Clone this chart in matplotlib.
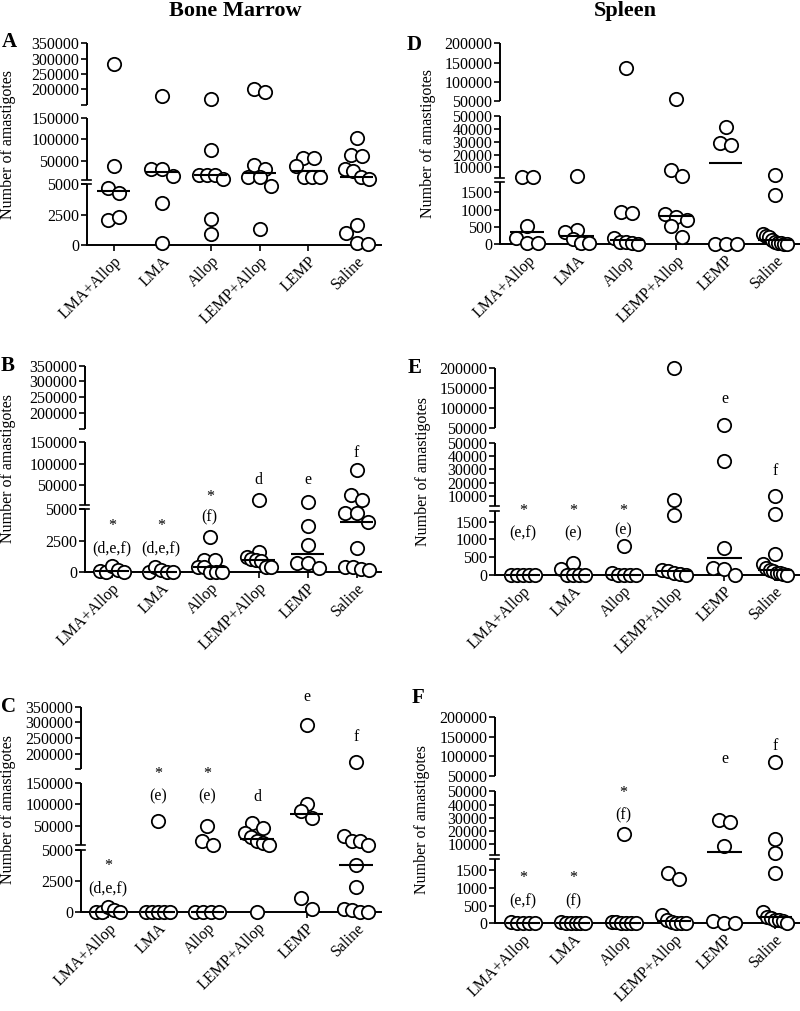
import numpy as np
import matplotlib
matplotlib.use('Agg')
import matplotlib.pyplot as plt
import matplotlib.transforms as mtransforms

plt.rcParams['font.family'] = ['Liberation Serif', 'DejaVu Serif']

# ---- data (number of amastigotes) ----
groups = ['LMA+Allop', 'LMA', 'Allop', 'LEMP+Allop', 'LEMP', 'Saline']

bm_a = [
    [282000, 36000, 4700, 4240, 2090, 2310],
    [178000, 30800, 30800, 13800, 3450, 190],
    [168000, 74600, 15400, 15400, 15400, 5500, 2170, 920],
    [200000, 192000, 40000, 31000, 11500, 11500, 4860, 1280],
    [57000, 55000, 38000, 11500, 11500, 11500],
    [104000, 63000, 61500, 30800, 24600, 11500, 5500, 1630, 1000, 130, 100],
]
bm_b = [
    [50, 0, 450, 100, 0],
    [0, 350, 100, 0, 0],
    [2780, 950, 950, 400, 400, 0, 0, 0],
    [16000, 1600, 1220, 1000, 950, 900, 360, 360],
    [11500, 3670, 2150, 680, 680, 300],
    [85000, 29000, 17000, 4730, 4700, 3960, 1880, 400, 360, 220, 100],
]
bm_c = [
    [0, 0, 400, 100, 0],
    [62000, 0, 0, 0, 0, 0],
    [50000, 13800, 6200, 0, 0, 0, 0],
    [57600, 44700, 33000, 25300, 13800, 10000, 6200, 0],
    [293000, 101000, 85000, 67800, 1130, 190],
    [174000, 27000, 16000, 13800, 6200, 3780, 1990, 240, 140, 0, 0],
]
sp_d = [
    [2800, 2400, 518, 176, 47, 47],
    [3000, 400, 341, 147, 47, 47],
    [136000, 930, 890, 176, 76, 76, 29, 20],
    [55000, 8000, 3600, 862, 794, 694, 538, 224],
    [41500, 28700, 27500, 0, 0, 0],
    [4300, 1420, 300, 240, 200, 130, 76, 50, 29, 10, 0],
]
sp_e = [
    [0, 0, 0, 0, 0],
    [350, 160, 0, 0, 0, 0],
    [806, 50, 0, 0, 0, 0],
    [200000, 7000, 1690, 130, 100, 60, 30, 0],
    [57600, 36500, 760, 194, 165, 0],
    [10000, 1700, 600, 320, 200, 140, 100, 70, 50, 20, 0],
]
sp_f = [
    [40, 20, 0, 0, 0],
    [40, 10, 10, 0, 0, 0],
    [18000, 50, 30, 20, 0, 0, 0],
    [1405, 1234, 237, 100, 40, 0, 0, 0],
    [28000, 26700, 8700, 66, 0, 0],
    [84700, 14300, 3300, 1425, 330, 190, 150, 95, 95, 60, 20],
]

# significance letters: (group index, text, height as axes fraction)
notes_b = [(0, '*', 0.22), (0, '(d,e,f)', 0.115), (1, '*', 0.22), (1, '(d,e,f)', 0.115),
           (2, '*', 0.365), (2, '(f)', 0.262), (3, 'd', 0.445), (4, 'e', 0.445), (5, 'f', 0.578)]
notes_c = [(0, '*', 0.223), (0, '(d,e,f)', 0.114), (1, '*', 0.672), (1, '(e)', 0.561),
           (2, '*', 0.672), (2, '(e)', 0.561), (3, 'd', 0.561), (4, 'e', 1.049), (5, 'f', 0.854)]
notes_e = [(0, '*', 0.31), (0, '(e,f)', 0.2), (1, '*', 0.31), (1, '(e)', 0.2),
           (2, '*', 0.31), (2, '(e)', 0.215), (4, 'e', 0.85), (5, 'f', 0.505)]
notes_f = [(0, '*', 0.218), (0, '(e,f)', 0.105), (1, '*', 0.218), (1, '(f)', 0.105),
           (2, '*', 0.632), (2, '(f)', 0.524), (4, 'e', 0.794), (5, 'f', 0.858)]

# ---- broken y axis settings ----
BM = dict(segs=[(0, 5000), (5000, 150000), (150000, 350000)],
          fr=[0.302, 0.022, 0.305, 0.066, 0.305],
          ticks=[0, 2500, 5000, 50000, 100000, 150000, 150000.01, 200000, 250000, 300000, 350000],
          labels=['0', '2500', '5000', '50000', '100000', '150000', '', '200000', '250000', '300000', '350000'])
SP = dict(segs=[(0, 1800), (2000, 50000), (50000, 200000)],
          fr=[0.31, 0.022, 0.306, 0.074, 0.288],
          ticks=[0, 500, 1000, 1500, 10000, 20000, 30000, 40000, 50000, 50000.01, 100000, 150000, 200000],
          labels=['0', '500', '1000', '1500', '10000', '20000', '30000', '40000', '50000', '50000',
                  '100000', '150000', '200000'])

W, H = 800, 1011
LW = 1.4


def seg_bounds(fr):
    b0 = (0.0, fr[0])
    b1 = (fr[0] + fr[1], fr[0] + fr[1] + fr[2])
    b2 = (b1[1] + fr[3], 1.0)
    return [b0, b1, b2]


def make_funcs(segs, fr):
    (l0, h0), (l1, h1), (l2, h2) = segs
    (a0, c0), (a1, c1), (a2, c2) = seg_bounds(fr)

    def fwd(v):
        v = np.asarray(v, dtype=float)
        r0 = a0 + (v - l0) / (h0 - l0) * (c0 - a0)
        r1 = a1 + (v - l1) / (h1 - l1) * (c1 - a1)
        r2 = a2 + (v - l2) / (h2 - l2) * (c2 - a2)
        return np.where(v <= h0, r0, np.where(v <= h1, r1, r2))

    def inv(u):
        u = np.asarray(u, dtype=float)
        r0 = l0 + (u - a0) / (c0 - a0) * (h0 - l0)
        r1 = l1 + (u - a1) / (c1 - a1) * (h1 - l1)
        r2 = l2 + (u - a2) / (c2 - a2) * (h2 - l2)
        return np.where(u <= c0, r0, np.where(u < a1, h0,
                        np.where(u <= c1, r1, np.where(u < a2, h1, r2))))
    return fwd, inv


def swarm(ax, i, vals, d_px=13.0, wmax=24.0):
    # spread points that sit at about the same height, like a column scatter
    vals = np.asarray(vals, dtype=float)
    pts = ax.transData.transform(np.column_stack([np.full(len(vals), float(i)), vals]))
    ys = pts[:, 1]
    order = np.argsort(ys, kind='stable')
    clusters, cur = [], [order[0]]
    for k in order[1:]:
        if ys[k] - ys[cur[0]] < d_px * 0.9:
            cur.append(k)
        else:
            clusters.append(cur)
            cur = [k]
    clusters.append(cur)
    offs = np.zeros(len(vals))
    for c in clusters:
        n = len(c)
        if n == 1:
            continue
        c = sorted(c)
        step = min(d_px * 0.85, wmax / (n - 1))
        for j, k in enumerate(c):
            offs[k] = (j - (n - 1) / 2) * step
    px_unit = ax.transData.transform([[1, 0]])[0, 0] - ax.transData.transform([[0, 0]])[0, 0]
    return i + offs / px_unit


def panel(box, data, cfg, letter, letter_xy, label_px, notes=None):
    left, right, top, bottom = box
    ax = fig.add_axes([left / W, 1 - bottom / H, (right - left) / W, (bottom - top) / H])
    fwd, inv = make_funcs(cfg['segs'], cfg['fr'])
    ax.set_yscale('function', functions=(fwd, inv))
    ax.set_ylim(0, cfg['segs'][2][1])
    ax.set_xlim(-0.55, 5.5)
    ax.set_yticks(cfg['ticks'])
    ax.set_yticklabels(cfg['labels'])
    ax.yaxis.set_minor_locator(matplotlib.ticker.NullLocator())

    for i, vals in enumerate(data):
        xs = swarm(ax, i, vals)
        ax.scatter(xs, vals, s=92, facecolor='white', edgecolor='black',
                   linewidth=1.3, zorder=3, clip_on=False)
        med = np.median(vals)
        ax.plot([i - 0.34, i + 0.34], [med, med], color='black', lw=1.5, zorder=4,
                solid_capstyle='butt', clip_on=False)

    for s in ['top', 'right', 'left']:
        ax.spines[s].set_visible(False)
    ax.spines['bottom'].set_linewidth(LW)

    # left spine in three pieces with break marks
    wpx = right - left
    b = seg_bounds(cfg['fr'])
    for a, c in b:
        ax.plot([0, 0], [a, c], transform=ax.transAxes, color='black', lw=LW,
                clip_on=False, solid_capstyle='butt')
    for u in [b[0][1], b[1][0]]:
        ax.plot([-5 / wpx, 4 / wpx], [u, u], transform=ax.transAxes, color='black',
                lw=1.2, clip_on=False)

    ax.tick_params(axis='y', direction='out', length=4.5, width=1.2, labelsize=11.5, pad=1)
    ax.tick_params(axis='x', direction='out', length=4, width=1.2, labelsize=11.5, pad=2)
    ax.set_xticks(range(len(groups)))
    ax.set_xticklabels(groups, rotation=45, ha='right', va='top', rotation_mode='anchor')
    ax.set_ylabel('Number of amastigotes', fontsize=11.5)
    ax.yaxis.set_label_coords((label_px - left) / wpx, 0.5)

    if notes:
        trans = mtransforms.blended_transform_factory(ax.transData, ax.transAxes)
        for i, txt, yf in notes:
            ax.text(i, yf, txt, transform=trans, ha='center', va='center', fontsize=11.5)

    fig.text(letter_xy[0] / W, 1 - letter_xy[1] / H, letter, fontsize=15,
             fontweight='bold', ha='center', va='center')
    return ax


fig = plt.figure(figsize=(8, 10.11), dpi=100)

panel((87, 381, 43.3, 245), bm_a, BM, 'A', (9, 42), 16)
panel((85, 381, 365.7, 571.7), bm_b, BM, 'B', (8, 366), 16, notes_b)
panel((81, 381, 706.7, 911.7), bm_c, BM, 'C', (8, 707), 16, notes_c)
panel((500, 800, 43.3, 244.3), sp_d, SP, 'D', (414, 45), 436)
panel((495, 800, 368.3, 575), sp_e, SP, 'E', (415, 368), 431, notes_e)
panel((495, 800, 716.7, 923.3), sp_f, SP, 'F', (418, 698), 430, notes_f)

fig.text(235 / W, 1 - 11 / H, 'Bone Marrow', fontsize=16, fontweight='bold', ha='center', va='center')
fig.text(625 / W, 1 - 11 / H, 'Spleen', fontsize=16, fontweight='bold', ha='center', va='center')

fig.savefig('out.png', dpi=100)
